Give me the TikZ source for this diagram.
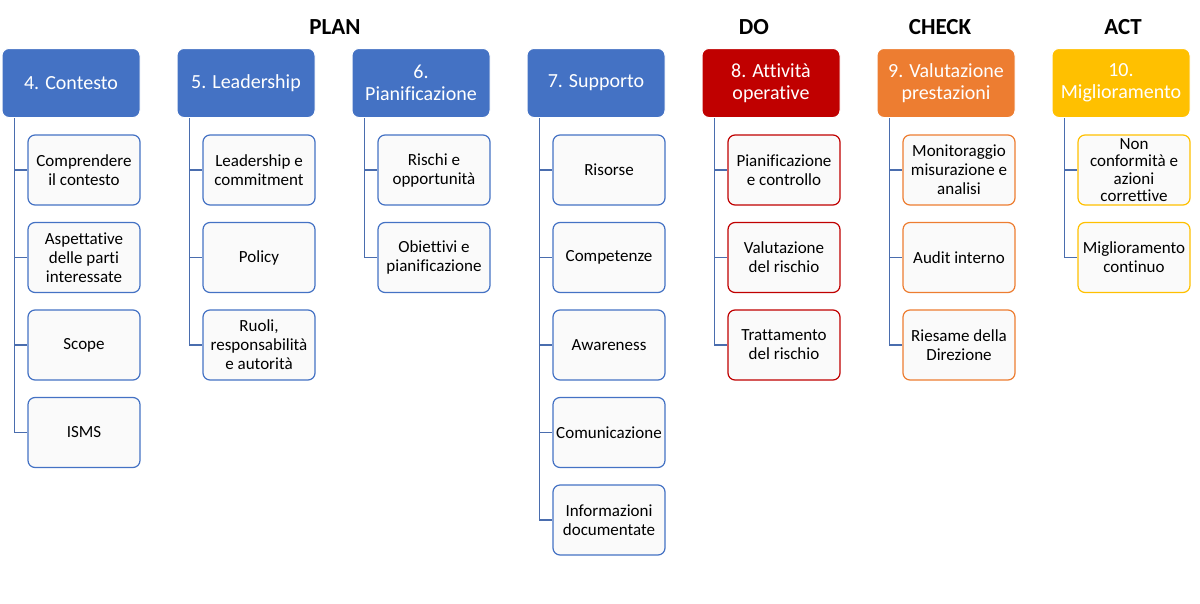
\documentclass[tikz,border=0pt]{standalone}
\usepackage{fontspec}
\setmainfont{Carlito}[Ligatures={NoCommon,NoContextual}]
\definecolor{pdblue}{HTML}{4472C4}
\definecolor{pdred}{HTML}{C00000}
\definecolor{pdorange}{HTML}{ED7D31}
\definecolor{pdgold}{HTML}{FFC000}
\definecolor{linkblue}{HTML}{4A6DAE}
\tikzset{x=1pt, y=-1pt,
phase/.style={
font=\bfseries\fontsize{23}{25}\selectfont},
head/.style={
draw=white, line width=1pt,
rounded corners=7pt,
minimum width=138, minimum height=69,
inner sep=2pt, align=center, text=white,
font=\fontsize{20}{22}\selectfont},
item/.style={
line width=1.2pt, fill=gray!4,
rounded corners=7pt,
minimum width=112, minimum height=70,
inner xsep=2pt, inner ysep=0pt, align=center,
font=\fontsize{17}{19}\selectfont},
link/.style={
draw=linkblue, line width=1.5pt}}

\begin{document}
\begin{tikzpicture}
\useasboundingbox (0,0) rectangle (1200,603);
% fasi
\node[phase] (plan) at (335,27) {PLAN};
\node[phase] (do) at (754,27) {DO};
\node[phase] (check) at (940,27) {CHECK};
\node[phase] (act) at (1123,27) {ACT};
% capitoli
\node[head, fill=pdblue] (h4) at (71,83) {4. Contesto};
\node[head, fill=pdblue] (h5) at (246,83) {5. Leadership};
\node[head, fill=pdblue] (h6) at (421,83) {6.\\Pianificazione};
\node[head, fill=pdblue] (h7) at (596,83) {7. Supporto};
\node[head, fill=pdred] (h8) at (771,83) {8. Attività\\operative};
\node[head, fill=pdorange] (h9) at (946,83) {9. Valutazione\\prestazioni};
\node[head, fill=pdgold] (h10) at (1121,83) {10.\\Miglioramento};
% 4
\node[item, draw=pdblue] (c4a) at (84,170) {Comprendere\\il contesto};
\node[item, draw=pdblue] (c4b) at (84,257.5) {Aspettative\\delle parti\\interessate};
\node[item, draw=pdblue] (c4c) at (84,345) {Scope};
\node[item, draw=pdblue] (c4d) at (84,432.5) {ISMS};
% 5
\node[item, draw=pdblue] (c5a) at (259,170) {Leadership e\\commitment};
\node[item, draw=pdblue] (c5b) at (259,257.5) {Policy};
\node[item, draw=pdblue] (c5c) at (259,345) {Ruoli,\\responsabilità\\e autorità};
% 6
\node[item, draw=pdblue] (c6a) at (434,170) {Rischi e\\opportunità};
\node[item, draw=pdblue] (c6b) at (434,257.5) {Obiettivi e\\pianificazione};
% 7
\node[item, draw=pdblue] (c7a) at (609,170) {Risorse};
\node[item, draw=pdblue] (c7b) at (609,257.5) {Competenze};
\node[item, draw=pdblue] (c7c) at (609,345) {Awareness};
\node[item, draw=pdblue] (c7d) at (609,432.5) {Comunicazione};
\node[item, draw=pdblue] (c7e) at (609,520) {Informazioni\\documentate};
% 8
\node[item, draw=pdred] (c8a) at (784,170) {Pianificazione\\e controllo};
\node[item, draw=pdred] (c8b) at (784,257.5) {Valutazione\\del rischio};
\node[item, draw=pdred] (c8c) at (784,345) {Trattamento\\del rischio};
% 9
\node[item, draw=pdorange] (c9a) at (959,170) {Monitoraggio\\misurazione e\\analisi};
\node[item, draw=pdorange] (c9b) at (959,257.5) {Audit interno};
\node[item, draw=pdorange] (c9c) at (959,345) {Riesame della\\Direzione};
% 10
\node[item, draw=pdgold, font=\fontsize{17}{17.5}\selectfont] (c10a) at (1134,170) {Non\\conformità e\\azioni\\correttive};
\node[item, draw=pdgold] (c10b) at (1134,257.5) {Miglioramento\\continuo};
% collegamenti
\foreach \c in {c4a,c4b,c4c,c4d}
  \draw[link] ([xshift=13]h4.south west) |- (\c.west);
\foreach \c in {c5a,c5b,c5c}
  \draw[link] ([xshift=13]h5.south west) |- (\c.west);
\foreach \c in {c6a,c6b}
  \draw[link] ([xshift=13]h6.south west) |- (\c.west);
\foreach \c in {c7a,c7b,c7c,c7d,c7e}
  \draw[link] ([xshift=13]h7.south west) |- (\c.west);
\foreach \c in {c8a,c8b,c8c}
  \draw[link] ([xshift=13]h8.south west) |- (\c.west);
\foreach \c in {c9a,c9b,c9c}
  \draw[link] ([xshift=13]h9.south west) |- (\c.west);
\foreach \c in {c10a,c10b}
  \draw[link] ([xshift=13]h10.south west) |- (\c.west);
\end{tikzpicture}
\end{document}
